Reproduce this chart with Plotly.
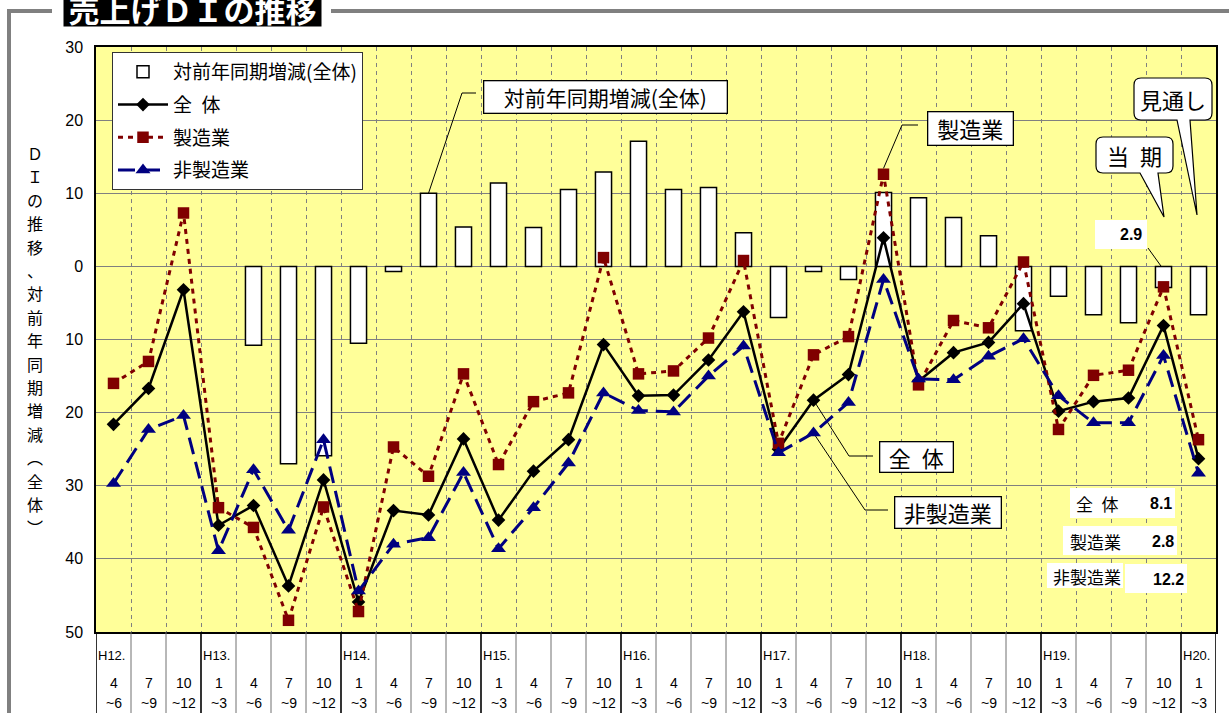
import plotly.graph_objects as go

# ---- 調査期（四半期） ----
year_labels = ["H12.", "", "", "H13.", "", "", "", "H14.", "", "", "", "H15.", "", "", "", "H16.",
               "", "", "", "H17.", "", "", "", "H18.", "", "", "", "H19.", "", "", "", "H20."]
month_from = ["4", "7", "10", "1", "4", "7", "10", "1", "4", "7", "10", "1", "4", "7", "10", "1",
              "4", "7", "10", "1", "4", "7", "10", "1", "4", "7", "10", "1", "4", "7", "10", "1"]
month_to = ["~6", "~9", "~12", "~3", "~6", "~9", "~12", "~3", "~6", "~9", "~12", "~3", "~6", "~9", "~12", "~3",
            "~6", "~9", "~12", "~3", "~6", "~9", "~12", "~3", "~6", "~9", "~12", "~3", "~6", "~9", "~12", "~3"]

# ---- 売上げDI ----
di_total = [-21.6, -16.7, -3.2, -35.4, -32.7, -43.7, -29.2, -45.9, -33.4, -34.0, -23.6, -34.7,
            -28.0, -23.7, -10.7, -17.7, -17.6, -12.8, -6.2, -25.0, -18.3, -14.8, 3.9, -15.7,
            -11.8, -10.4, -5.1, -19.8, -18.5, -18.0, -8.1, -26.3]
di_manufacturing = [-16.0, -13.0, 7.3, -33.0, -35.7, -48.4, -32.9, -47.2, -24.7, -28.7, -14.7, -27.1,
                    -18.5, -17.3, 1.2, -14.7, -14.3, -9.8, 0.8, -24.2, -12.1, -9.6, 12.6, -16.2,
                    -7.4, -8.4, 0.6, -22.3, -14.9, -14.2, -2.8, -23.7]
di_nonmanufacturing = [-29.7, -22.3, -20.4, -38.9, -27.8, -36.1, -23.7, -44.4, -38.0, -37.1, -28.2, -38.6,
                       -33.0, -26.9, -17.3, -19.7, -19.9, -15.0, -10.9, -25.5, -22.8, -18.6, -1.8, -15.4,
                       -15.5, -12.3, -9.9, -17.7, -21.4, -21.4, -12.2, -28.3]
# 対前年同期増減（全体）
yoy_change = [None, None, None, None, -10.8, -27.0, -25.9, -10.5, -0.7, 10.0, 5.4, 11.4,
              5.3, 10.5, 12.9, 17.1, 10.5, 10.8, 4.6, -7.0, -0.7, -1.8, 10.1, 9.4,
              6.7, 4.2, -8.8, -4.1, -6.6, -7.7, -2.9, -6.6]

y_ticks = [-50, -40, -30, -20, -10, 0, 10, 20, 30]
y_ticktext = ["50", "40", "30", "20", "10", "0", "10", "20", "30"]

CURRENT = 30  # 当期
x_idx = list(range(len(month_from)))

# ---- page geometry ----
W, H = 1229, 713
L, R, T, B = 96, 1216, 47, 632
COL = (R - L) / len(x_idx)
UNIT = (B - T) / (y_ticks[-1] - y_ticks[0])


def px(x):
    return (x - L) / (R - L)


def py(y):
    return (B - y) / (B - T)


def dx(x):
    return (x - L) / COL - 0.5


def dy(y):
    return (B - y) / UNIT + y_ticks[0]


JP = "Noto Sans CJK JP"
LAT = "Liberation Sans"

fig = go.Figure()
fig.add_trace(go.Bar(
    x=x_idx, y=yoy_change, name="対前年同期増減(全体)", legendgroup="g1",
    marker=dict(color="white", line=dict(color="black", width=1.5)),
))
fig.add_trace(go.Scatter(
    x=x_idx, y=di_total, name="全\u2002体", legendgroup="g2", mode="lines+markers",
    line=dict(color="black", width=2.5),
    marker=dict(symbol="diamond", size=10.5, color="black"),
))
fig.add_trace(go.Scatter(
    x=x_idx, y=di_manufacturing, name="製造業", legendgroup="g3", mode="lines+markers",
    line=dict(color="#800000", width=3, dash="5px,5px"),
    marker=dict(symbol="square", size=11.5, color="#800000"),
))
fig.add_trace(go.Scatter(
    x=x_idx, y=di_nonmanufacturing, name="非製造業", legendgroup="g4", mode="lines+markers",
    line=dict(color="#000080", width=3, dash="17px,8px"),
    marker=dict(symbol="triangle-up", size=13, color="#000080"),
))

shapes = []
annotations = []

# category table below the plot
year_starts = {0, len(x_idx)} | {k for k, s in enumerate(year_labels) if s}
for k in range(len(x_idx) + 1):
    strong = k in year_starts
    shapes.append(dict(type="line", xref="x", yref="paper", x0=k - 0.5, x1=k - 0.5,
                       y0=0, y1=py(H + 2),
                       line=dict(color="black" if strong else "#707070", width=1.6 if strong else 1)))
for k in x_idx:
    if year_labels[k]:
        annotations.append(dict(x=k - 0.05, y=py(655), xref="x", yref="paper", text=year_labels[k],
                                showarrow=False, xanchor="center", yanchor="middle",
                                font=dict(family=LAT, size=13, color="black")))
    annotations.append(dict(x=k, y=py(683), xref="x", yref="paper", text=month_from[k],
                            showarrow=False, xanchor="center", yanchor="middle",
                            font=dict(family=LAT, size=14, color="black")))
    annotations.append(dict(x=k, y=py(703), xref="x", yref="paper", text=month_to[k],
                            showarrow=False, xanchor="center", yanchor="middle",
                            font=dict(family=LAT, size=14, color="black")))


def leader(points):
    path = "M " + " L ".join(f"{x},{y}" for x, y in points)
    return dict(type="path", xref="x", yref="y", path=path, layer="between",
                line=dict(color="black", width=1))


# series callouts
shapes.append(leader([(9, yoy_change[9]), (dx(462), dy(93)), (dx(476), dy(93))]))
shapes.append(leader([(22, di_manufacturing[22] + 0.8), (dx(902), dy(125)), (dx(918), dy(125))]))
shapes.append(leader([(20, di_total[20]), (dx(849), dy(456)), (dx(873), dy(456))]))
shapes.append(leader([(20, di_nonmanufacturing[20]), (dx(865), dy(510)), (dx(888), dy(510))]))
shapes.append(leader([(dx(1148), dy(248)), (dx(1166), dy(273))]))


def boxed(text, x0, y0, x1, y1, size):
    return dict(x=px((x0 + x1) / 2), y=py((y0 + y1) / 2), xref="paper", yref="paper",
                text=text, showarrow=False, xanchor="center", yanchor="middle",
                width=x1 - x0 - 2, height=y1 - y0 - 2, borderpad=0,
                bgcolor="white", bordercolor="black", borderwidth=1.3,
                font=dict(family=JP, size=size, color="black"))


annotations.append(boxed("対前年同期増減(全体)", 483, 80, 727, 113, 21))
annotations.append(boxed("製造業", 927, 112, 1013, 146, 22))
annotations.append(boxed("全\u2002体", 879, 442, 953, 473, 22))
annotations.append(boxed("非製造業", 894, 496, 1001, 528, 22))


def bubble(x0, y0, x1, y1, tail, r=7):
    pts = [("M", x0 + r, y0), ("L", x1 - r, y0), ("Q", x1, y0, x1, y0 + r), ("L", x1, y1 - r),
           ("Q", x1, y1, x1 - r, y1)]
    pts += [("L",) + p for p in tail]
    pts += [("L", x0 + r, y1), ("Q", x0, y1, x0, y1 - r), ("L", x0, y0 + r), ("Q", x0, y0, x0 + r, y0)]
    parts = []
    for p in pts:
        cmd, coords = p[0], p[1:]
        xy = " ".join(f"{px(coords[i])},{py(coords[i + 1])}" for i in range(0, len(coords), 2))
        parts.append(f"{cmd} {xy}")
    return dict(type="path", xref="paper", yref="paper", path=" ".join(parts) + " Z",
                fillcolor="white", line=dict(color="black", width=1.2), layer="above")


shapes.append(bubble(1096, 137, 1173, 173, [(1158, 173), (1164, 217), (1140, 173)]))
shapes.append(bubble(1134, 78, 1212, 120, [(1190, 120), (1197, 215), (1177, 120)]))
for text, cx, cy in [("当\u2002期", 1134.5, 155), ("見通し", 1173, 99)]:
    annotations.append(dict(x=px(cx), y=py(cy), xref="paper", yref="paper", text=text, showarrow=False,
                            xanchor="center", yanchor="middle", font=dict(family=JP, size=22, color="black")))

# 当期 values
for x0, y0, x1, y1 in [(1070, 488, 1175, 518), (1063, 526, 1177, 555), (1047, 563, 1123, 588),
                       (1125, 564, 1187, 593), (1095, 220, 1147, 249)]:
    shapes.append(dict(type="rect", xref="paper", yref="paper", x0=px(x0), x1=px(x1), y0=py(y0), y1=py(y1),
                       fillcolor="white", line=dict(width=0), layer="above"))
value_labels = [
    ("全\u2002体", 1097, 503, f"{abs(di_total[CURRENT]):.1f}", 1161, 503),
    ("製造業", 1095, 541, f"{abs(di_manufacturing[CURRENT]):.1f}", 1163, 541),
    ("非製造業", 1087, 576, f"{abs(di_nonmanufacturing[CURRENT]):.1f}", 1168, 579),
]
for name, nx, ny, val, vx, vy in value_labels:
    annotations.append(dict(x=px(nx), y=py(ny), xref="paper", yref="paper", text=name, showarrow=False,
                            xanchor="center", yanchor="middle", font=dict(family=JP, size=17, color="black")))
    annotations.append(dict(x=px(vx), y=py(vy), xref="paper", yref="paper", text=f"<b>{val}</b>",
                            showarrow=False, xanchor="center", yanchor="middle",
                            font=dict(family=LAT, size=16, color="black")))
annotations.append(dict(x=px(1144), y=py(235), xref="paper", yref="paper",
                        text=f"<b>{abs(yoy_change[CURRENT]):.1f}</b>", showarrow=False,
                        xanchor="right", yanchor="middle", font=dict(family=LAT, size=16, color="black")))

# vertical axis title, one glyph per line
axis_title = ["Ｄ", "Ｉ", "の", "推", "移", "、", "対", "前", "年", "同", "期", "増", "減", "︵", "全", "体", "︶"]
for i, ch in enumerate(axis_title):
    annotations.append(dict(x=px(35), y=py(153 + 23.4 * i), xref="paper", yref="paper", text=ch,
                            showarrow=False, xanchor="center", yanchor="middle", borderpad=0,
                            font=dict(family=JP, size=16, color="black")))

# heading and frame
annotations.append(dict(x=px(63), y=py(27), xref="paper", yref="paper", text="<b>売上げＤＩの推移</b>",
                        showarrow=False, xanchor="left", yanchor="bottom", width=257, height=36,
                        borderpad=0, bgcolor="black", font=dict(family=JP, size=31, color="white")))
frame = dict(color="#808080", width=4)
shapes.append(dict(type="line", xref="paper", yref="paper", x0=px(9), x1=px(9), y0=py(10), y1=py(H + 5), line=frame))
shapes.append(dict(type="line", xref="paper", yref="paper", x0=px(7), x1=px(52), y0=py(11), y1=py(11), line=frame))
shapes.append(dict(type="line", xref="paper", yref="paper", x0=px(331), x1=px(W + 5), y0=py(11), y1=py(11), line=frame))

fig.update_layout(
    width=W, height=H,
    margin=dict(l=L, r=W - R, t=T, b=H - B, pad=0),
    paper_bgcolor="white", plot_bgcolor="#FFFF99",
    bargap=0.54,
    showlegend=True,
    legend=dict(x=px(112), y=py(52), xanchor="left", yanchor="top", bgcolor="white",
                bordercolor="#333333", borderwidth=1, tracegroupgap=5, itemwidth=50,
                font=dict(family=JP, size=19, color="black")),
    shapes=shapes,
    annotations=annotations,
)
fig.update_xaxes(range=[-0.5, len(x_idx) - 0.5], showticklabels=False, tickmode="linear", tick0=0.5, dtick=1,
                 showgrid=True, gridcolor="#808080", griddash="4px,4px", gridwidth=1,
                 showline=True, linecolor="black", linewidth=1.5, mirror=True, ticks="", zeroline=False)
fig.update_yaxes(range=[y_ticks[0], y_ticks[-1]], tickmode="array", tickvals=y_ticks, ticktext=y_ticktext,
                 showgrid=True, gridcolor="#808080", gridwidth=1, showline=True, linecolor="black",
                 linewidth=1.5, mirror=True, zeroline=False, ticks="outside", ticklen=8,
                 tickcolor="rgba(0,0,0,0)", tickfont=dict(family=LAT, size=16, color="black"))

fig.write_html("out.html")
